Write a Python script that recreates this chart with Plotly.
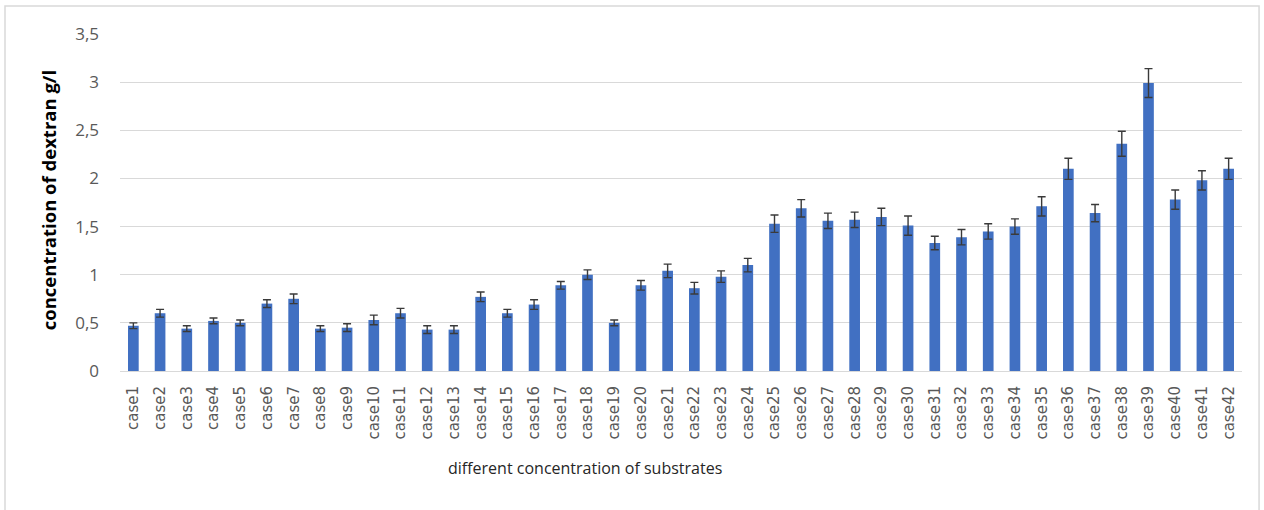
import plotly.graph_objects as go

# Dextran concentration (g/l) per substrate combination, with standard error
cases = [f"case{i}" for i in range(1, 43)]
dextran = [
    0.47, 0.60, 0.44, 0.52, 0.50, 0.70, 0.75, 0.44, 0.45, 0.53,
    0.60, 0.43, 0.43, 0.77, 0.60, 0.69, 0.89, 1.00, 0.50, 0.89,
    1.04, 0.86, 0.98, 1.10, 1.53, 1.69, 1.56, 1.57, 1.60, 1.51,
    1.33, 1.39, 1.45, 1.50, 1.71, 2.10, 1.64, 2.36, 2.99, 1.78,
    1.98, 2.10,
]
error = [
    0.03, 0.04, 0.03, 0.03, 0.03, 0.04, 0.05, 0.03, 0.04, 0.05,
    0.05, 0.04, 0.04, 0.05, 0.04, 0.05, 0.04, 0.05, 0.03, 0.05,
    0.07, 0.06, 0.06, 0.07, 0.09, 0.09, 0.08, 0.08, 0.09, 0.10,
    0.07, 0.08, 0.08, 0.08, 0.10, 0.11, 0.09, 0.13, 0.15, 0.10,
    0.10, 0.11,
]

fig = go.Figure(
    go.Bar(
        x=cases,
        y=dextran,
        marker=dict(color="#4170C2", line=dict(width=0)),
        error_y=dict(type="data", array=error, visible=True,
                     color="#3A3A3A", thickness=1.4, width=4),
    )
)

fig.update_layout(
    width=1264,
    height=510,
    margin=dict(l=120, r=22, t=34, b=139),
    paper_bgcolor="white",
    plot_bgcolor="white",
    separators=",.",
    bargap=0.6,
    showlegend=False,
    xaxis=dict(
        tickangle=-90,
        tickfont=dict(family="DejaVu Sans", size=15, color="#595959"),
        ticklabelstandoff=8,
        showgrid=False,
        showline=True,
        linecolor="#D9D9D9",
        linewidth=1,
        ticks="",
    ),
    yaxis=dict(
        range=[0, 3.5],
        dtick=0.5,
        tickfont=dict(family="Open Sans", size=17, color="#595959"),
        showgrid=True,
        gridcolor="#D9D9D9",
        gridwidth=1,
        zeroline=False,
        ticks="",
        ticklabelstandoff=20,
    ),
    annotations=[
        dict(text="<b>concentration of dextran g/l</b>",
             xref="paper", yref="paper", x=-0.064, y=0.507,
             xanchor="center", yanchor="middle", textangle=-90,
             showarrow=False,
             font=dict(family="Open Sans", size=18.5, color="#000000")),
        dict(text="different concentration of substrates",
             xref="paper", yref="paper", x=0.4144, y=-0.288,
             xanchor="center", yanchor="middle", showarrow=False,
             font=dict(family="Open Sans", size=16, color="#262626")),
    ],
    shapes=[
        dict(type="rect", xref="paper", yref="paper",
             x0=-0.1025, x1=1.0152, y0=-0.43, y1=1.083,
             line=dict(color="#D9D9D9", width=1.5), layer="below"),
    ],
)

fig.write_html("out.html")
